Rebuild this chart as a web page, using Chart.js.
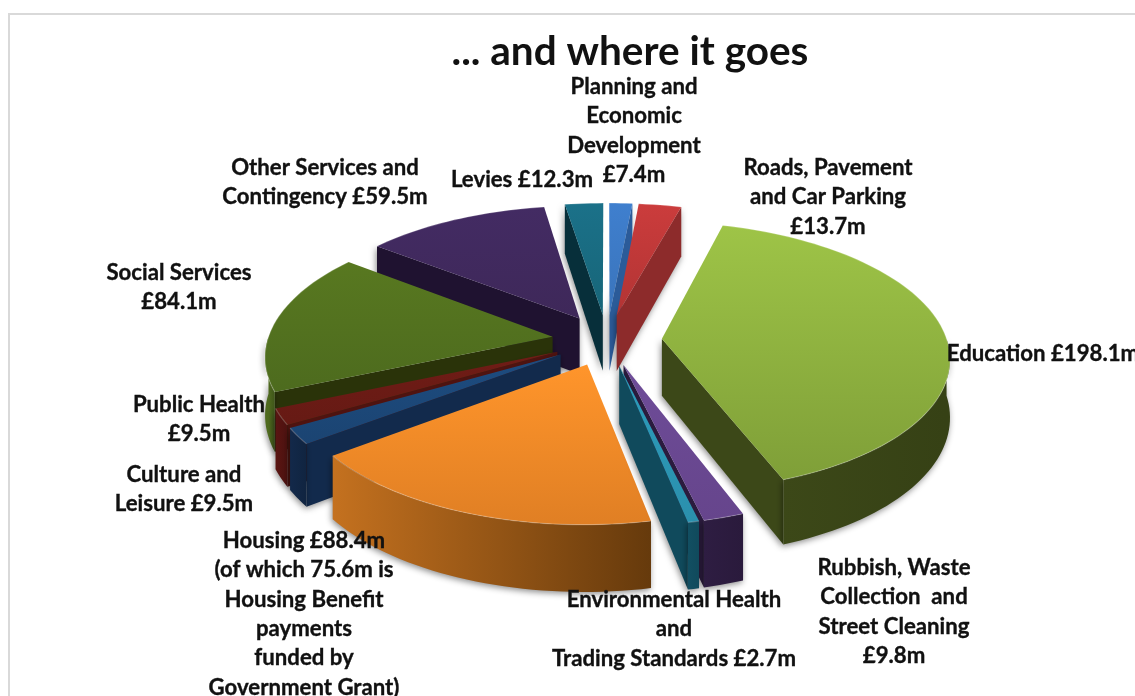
<!DOCTYPE html>
<html>
<head>
<meta charset="utf-8">
<style>
html,body{margin:0;padding:0;background:#fff;overflow:hidden;width:1135px;height:696px}
#wrap{position:absolute;left:0;top:0;width:1135px;height:696px}
#frame{position:absolute;left:8px;top:13px;width:1135px;height:700px;border-left:2px solid #d9d9d9;border-top:2px solid #d9d9d9;box-sizing:border-box}
canvas{position:absolute;left:0;top:0}
</style>
<script src="https://cdn.jsdelivr.net/npm/chart.js@4/dist/chart.umd.min.js"></script>
</head>
<body>
<div id="wrap"><div id="frame"></div><canvas id="c" width="1135" height="696"></canvas></div>
<script>
const categories = ["Planning and Economic Development","Roads, Pavement and Car Parking","Education","Rubbish, Waste Collection and Street Cleaning","Environmental Health and Trading Standards","Housing","Culture and Leisure","Public Health","Social Services","Other Services and Contingency","Levies"];
const values = [7.4,13.7,198.1,9.8,2.7,88.4,9.5,9.5,84.1,59.5,12.3];
const labelLines = [
 ["Planning and","Economic","Development","£7.4m"],
 ["Roads, Pavement","and Car Parking","£13.7m"],
 ["Education £198.1m"],
 ["Rubbish, Waste","Collection  and","Street Cleaning","£9.8m"],
 ["Environmental Health","and","Trading Standards £2.7m"],
 ["Housing £88.4m","(of which 75.6m is","Housing Benefit","payments","funded by","Government Grant)"],
 ["Culture and","Leisure £9.5m"],
 ["Public Health","£9.5m"],
 ["Social Services","£84.1m"],
 ["Other Services and","Contingency £59.5m"],
 ["Levies £12.3m"]
];
const labelX = [634,828,1043,894,674,304,184,199,179,325,522];
const labelY = [87,168,354,568,600,541,475,405,273,168,180];
const topStart = ["#3f7fce","#cb3c3c","#9ec447","#6e4c98","#2b9cbb","#ff952b","#1d4c80","#701c16","#587820","#432b63","#1b7189"];
const topEnd   = ["#3a74bb","#b23434","#7f9f38","#66458c","#2b90ad","#e07f24","#1b4472","#661a14","#4d6b1e","#3e2859","#176578"];
const wallA    = ["#2c5a96","#9a2e2e","#3c4818","#2e1d42","#124f62","#c4711f","#13294a","#5a1512","#4f6a1e","#21143a","#0a3a48"];
const wallB    = ["#2c5a96","#8a2a2a","#364115","#2a1a3c","#104a5c","#663a0c","#102440","#4d1210","#3f551a","#1d1230","#083340"];
const faceCol  = ["#2b5b99","#8d2b2b","#3c4818","#2b1b3e","#104a5c","#8a4f14","#122a4c","#4f1310","#2a3309","#1f1230","#072f3a"];

const VIEW = {cx:607, cy:340, radius:285, k:0.465, f:2200, depth:57};
function project(X,Y,z){
  const s = VIEW.f/(VIEW.f+Y);
  return [VIEW.cx + X*s, VIEW.cy - Y*VIEW.k*s + z*s];
}
function poly(ctx,pts){
  ctx.beginPath();
  pts.forEach((p,i)=> i?ctx.lineTo(p[0],p[1]):ctx.moveTo(p[0],p[1]));
  ctx.closePath();
}
const pie3d = {
  id:'pie3d',
  beforeDatasetDraw(chart,args){
    const ctx = chart.ctx;
    const meta = chart.getDatasetMeta(args.index);
    const items = meta.data.map((arc,i)=>{
      const a0 = arc.startAngle+Math.PI/2, a1 = arc.endAngle+Math.PI/2;
      const mid = (a0+a1)/2, e = arc.options.offset;
      const ox = e*Math.sin(mid), oy = e*Math.cos(mid);
      return {arc,i,a0,a1,mid,ox,oy,key:oy+VIEW.radius*0.55*Math.cos(mid)*((a1-a0)<1.5?1:0.6)};
    }).sort((p,q)=>q.key-p.key);
    for(const it of items){
      const {i,a0,a1,ox,oy} = it;
      const R = VIEW.radius;
      const P = (a,r,z)=>project(ox+r*Math.sin(a),oy+r*Math.cos(a),z);
      const sample=(from,to)=>{const n=Math.max(2,Math.ceil((to-from)/0.03));const o=[];for(let j=0;j<=n;j++)o.push(from+(to-from)*j/n);return o;};
      const D = VIEW.depth;
      const arcAngles = sample(a0,a1);
      ctx.save();
      ctx.shadowColor='rgba(0,0,0,0.45)';ctx.shadowBlur=6;ctx.shadowOffsetY=2;ctx.shadowOffsetX=-1;
      if(Math.sin(a0)<0){
        poly(ctx,[P(0,0,0),P(a0,R,0),P(a0,R,D),P(0,0,D)]);ctx.fillStyle=faceCol[i];ctx.fill();
      }
      if(Math.sin(a1)>0){
        poly(ctx,[P(0,0,0),P(a1,R,0),P(a1,R,D),P(0,0,D)]);ctx.fillStyle=faceCol[i];ctx.fill();
      }
      const w0=Math.max(a0,Math.PI/2), w1=Math.min(a1,Math.PI*1.5);
      if(w1>w0){
        const as=sample(w0,w1);
        const up=as.map(a=>P(a,R,0)), dn=as.map(a=>P(a,R,D)).reverse();
        const gg=ctx.createLinearGradient(Math.min(up[0][0],up[up.length-1][0]),0,Math.max(up[0][0],up[up.length-1][0]),0);
        gg.addColorStop(0,wallA[i]);gg.addColorStop(1,wallB[i]);
        poly(ctx,up.concat(dn));ctx.fillStyle=gg;ctx.fill();
      }
      ctx.restore();
      const top=[P(0,0,0)].concat(arcAngles.map(a=>P(a,R,0)));
      const ys=top.map(p=>p[1]);
      const g=ctx.createLinearGradient(0,Math.min(...ys),0,Math.max(...ys));
      g.addColorStop(0,it.arc.options.backgroundColor);g.addColorStop(1,topEnd[i]);
      poly(ctx,top);ctx.fillStyle=g;ctx.fill();
      ctx.beginPath();
      arcAngles.forEach((a,j)=>{const p=P(a,R,0);j?ctx.lineTo(p[0],p[1]):ctx.moveTo(p[0],p[1]);});
      ctx.strokeStyle='rgba(255,255,255,0.22)';ctx.lineWidth=1.2;ctx.stroke();
    }
    return false;
  },
  afterDraw(chart){
    const ctx=chart.ctx;
    ctx.save();
    ctx.font='bold 22.2px Lato';ctx.fillStyle='#111';ctx.strokeStyle='#111';ctx.lineWidth=0.35;ctx.textAlign='center';ctx.textBaseline='middle';
    labelLines.forEach((lines,i)=>{
      lines.forEach((t,j)=>{const y=labelY[i]+j*29.3;ctx.fillText(t,labelX[i],y);ctx.strokeText(t,labelX[i],y);});
    });
    ctx.restore();
  }
};
new Chart(document.getElementById('c'),{
  type:'pie',
  data:{labels:categories,datasets:[{data:values,backgroundColor:topStart,offset:55,hoverOffset:0,borderWidth:0}]},
  options:{
    responsive:false,animation:false,events:[],
    layout:{padding:{left:125,top:22}},
    plugins:{
      legend:{display:false},tooltip:{enabled:false},
      title:{display:true,text:'... and where it goes',color:'#111',font:{family:'Lato',size:40.5,weight:'bold'},padding:{top:6,bottom:0}}
    }
  },
  plugins:[pie3d]
});
</script>
</body>
</html>
